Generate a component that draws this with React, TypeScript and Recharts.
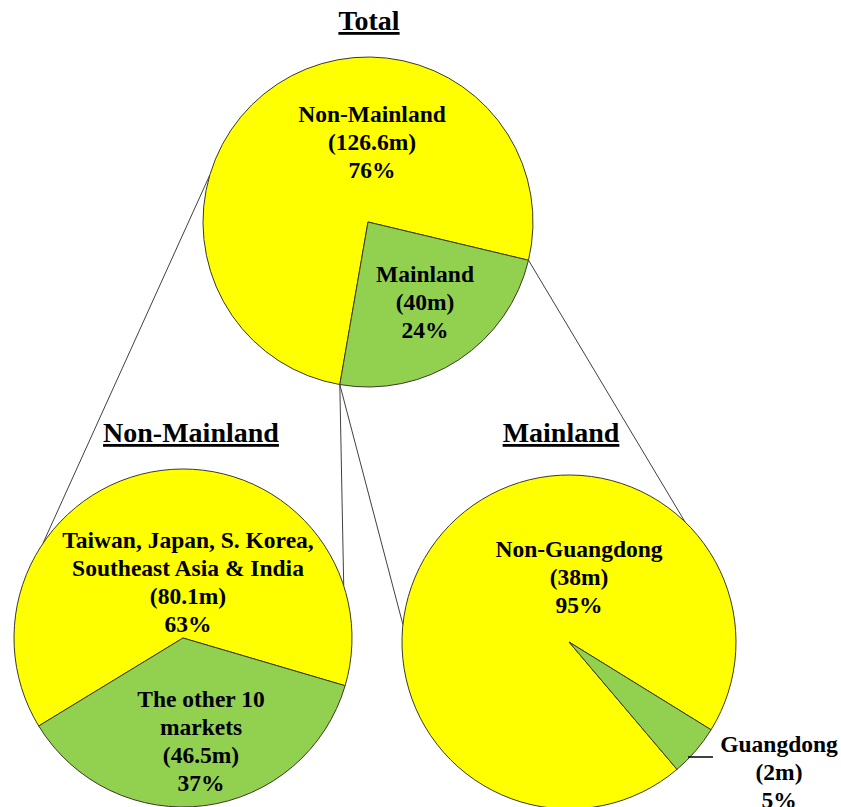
import React from "react";
import { PieChart, Pie, Cell } from "recharts";

// values in millions
const totalNames = ["Non-Mainland", "Mainland"];
const totalValues = [126.6, 40];

const nonMainlandNames = ["Taiwan, Japan, S. Korea,\nSoutheast Asia & India", "The other 10\nmarkets"];
const nonMainlandValues = [80.1, 46.5];

const mainlandNames = ["Non-Guangdong", "Guangdong"];
const mainlandValues = [38, 2];

const titles = ["Total", "Non-Mainland", "Mainland"];

const YELLOW = "#FFFF00";
const GREEN = "#92D050";
const FONT = "'Liberation Serif', 'Times New Roman', serif";
const LINE_H = 28;

// pie geometry (px)
const TOP = { cx: 368, cy: 222, r: 165, start: -13.4 };
const LEFT = { cx: 183, cy: 638, r: 169, start: -16.4 };
const RIGHT = { cx: 569, cy: 642, r: 167, start: -31.7 };

// label anchors relative to pie centre (first baseline)
const topLabelPos = [{ dx: 4, dy: -100 }, { dx: 57, dy: 60 }];
const leftLabelPos = [{ dx: 5, dy: -90 }, { dx: 18, dy: 69 }];
const rightLabelPos = [
  { dx: 10, dy: -85 },
  { dx: 210, dy: 110, leader: [119, 115, 144, 115] },
];

type P = { cx: number; cy: number; r: number; start: number };

function polar(p: P, deg: number) {
  const a = (deg * Math.PI) / 180;
  return [p.cx + p.r * Math.cos(a), p.cy - p.r * Math.sin(a)];
}

function sweep(p: P, values: number[], i: number) {
  const sum = values.reduce((a, b) => a + b, 0);
  let acc = p.start;
  for (let k = 0; k < i; k++) acc += (values[k] / sum) * 360;
  return acc;
}

function toRows(names: string[], values: number[]) {
  return names.map((name, i) => ({ name, value: values[i] }));
}

function makeLabel(names: string[], values: number[], pos: any[], p: P) {
  const sum = values.reduce((a, b) => a + b, 0);
  return (props: any) => {
    const i = props.index;
    const o = pos[i];
    const x = p.cx + o.dx;
    const y = p.cy + o.dy;
    const lines = [
      ...names[i].split("\n"),
      `(${values[i]}m)`,
      `${Math.round((values[i] / sum) * 100)}%`,
    ];
    return (
      <g key={`lbl-${i}`}>
        {o.leader && (
          <line
            x1={p.cx + o.leader[0]}
            y1={p.cy + o.leader[1]}
            x2={p.cx + o.leader[2]}
            y2={p.cy + o.leader[3]}
            stroke="#000"
            strokeWidth={1.5}
          />
        )}
        <text
          x={x}
          y={y}
          textAnchor="middle"
          fontFamily={FONT}
          fontWeight="bold"
          fontSize={23.5}
          fill="#000"
        >
          {lines.map((l, k) => (
            <tspan key={k} x={x} dy={k === 0 ? 0 : LINE_H}>
              {l}
            </tspan>
          ))}
        </text>
      </g>
    );
  };
}

function Title({ x, y, text }: { x: number; y: number; text: string }) {
  return (
    <text
      x={x}
      y={y}
      textAnchor="middle"
      fontFamily={FONT}
      fontWeight="bold"
      fontSize={28}
      fill="#000"
      style={{ textDecoration: "underline" }}
    >
      {text}
    </text>
  );
}

export default function App() {
  const mainlandEdge = sweep(TOP, totalValues, 1);
  const connectors = [
    [polar(TOP, 163.4), polar(LEFT, 146)],
    [polar(TOP, mainlandEdge), polar(LEFT, 18)],
    [polar(TOP, mainlandEdge), polar(RIGHT, 174)],
    [polar(TOP, TOP.start), polar(RIGHT, 46)],
  ];

  const pie = (p: P, names: string[], values: number[], pos: any[]) => (
    <Pie
      data={toRows(names, values)}
      dataKey="value"
      nameKey="name"
      cx={p.cx}
      cy={p.cy}
      outerRadius={p.r}
      startAngle={p.start}
      endAngle={p.start + 360}
      stroke="#3a3a2a"
      strokeWidth={1}
      labelLine={false}
      label={makeLabel(names, values, pos, p)}
      isAnimationActive={false}
    >
      <Cell fill={YELLOW} />
      <Cell fill={GREEN} />
    </Pie>
  );

  return (
    <div style={{ position: "absolute", left: 0, top: 0, background: "#fff" }}>
      <PieChart width={841} height={807} margin={{ top: 0, right: 0, bottom: 0, left: 0 }}>
        {connectors.map(([a, b], i) => (
          <line key={i} x1={a[0]} y1={a[1]} x2={b[0]} y2={b[1]} stroke="#404040" strokeWidth={1} />
        ))}
        <Title x={369} y={30} text={titles[0]} />
        <Title x={191} y={442} text={titles[1]} />
        <Title x={561} y={442} text={titles[2]} />
        {pie(TOP, totalNames, totalValues, topLabelPos)}
        {pie(LEFT, nonMainlandNames, nonMainlandValues, leftLabelPos)}
        {pie(RIGHT, mainlandNames, mainlandValues, rightLabelPos)}
      </PieChart>
    </div>
  );
}
